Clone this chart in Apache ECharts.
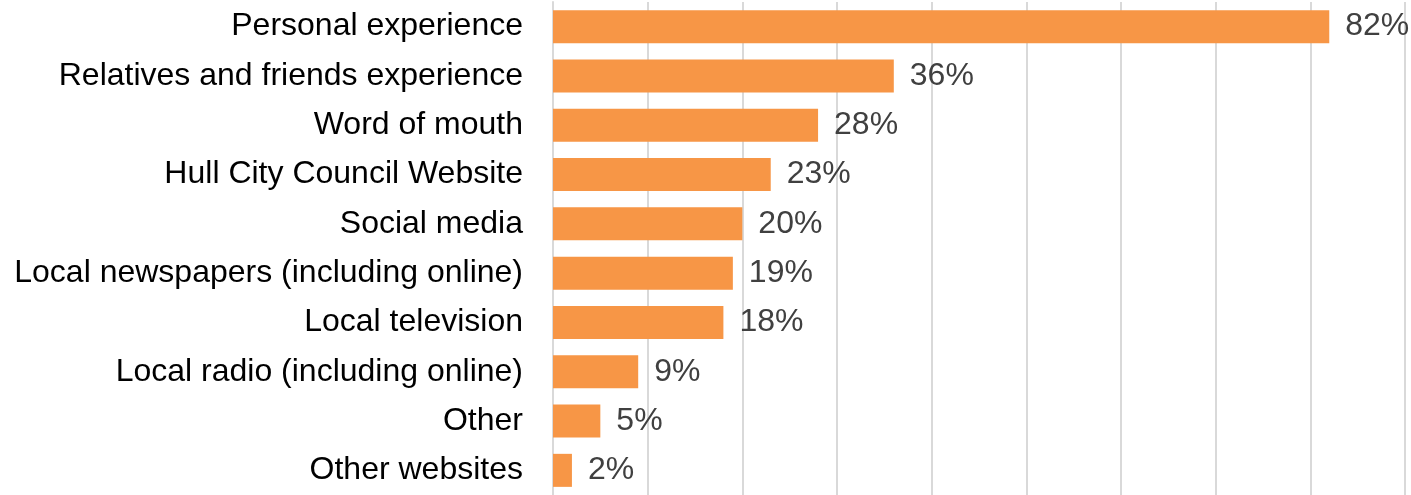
<!DOCTYPE html>
<html>
<head>
<meta charset="utf-8">
<script src="https://cdn.jsdelivr.net/npm/echarts@6/dist/echarts.min.js"></script>
<style>
  html, body { margin: 0; padding: 0; background: #fff; }
  #chart { width: 1411px; height: 495px; }
</style>
</head>
<body>
<div id="chart"></div>
<script>
// Information sources, share of respondents (%)
const categories = [
  'Personal experience',
  'Relatives and friends experience',
  'Word of mouth',
  'Hull City Council Website',
  'Social media',
  'Local newspapers (including online)',
  'Local television',
  'Local radio (including online)',
  'Other',
  'Other websites'
];
const values = [82, 36, 28, 23, 20, 19, 18, 9, 5, 2];

const chart = echarts.init(document.getElementById('chart'), null, { renderer: 'canvas' });

chart.setOption({
  animation: false,
  backgroundColor: '#ffffff',
  grid: { left: 553, top: 2, width: 852, height: 496, containLabel: false },
  xAxis: {
    type: 'value',
    min: 0,
    max: 90,
    interval: 10,
    axisLabel: { show: false },
    axisLine: { show: false },
    axisTick: { show: false },
    splitLine: { show: true, lineStyle: { color: '#d9d9d9', width: 2 } }
  },
  yAxis: {
    type: 'category',
    inverse: true,
    data: categories,
    axisLine: { show: true, lineStyle: { color: '#d9d9d9', width: 2 } },
    axisTick: { show: false },
    axisLabel: {
      margin: 30,
      color: '#000000',
      fontFamily: 'Liberation Sans, Arial, sans-serif',
      fontSize: 32
    }
  },
  series: [{
    type: 'bar',
    data: values,
    barCategoryGap: '33%',
    itemStyle: { color: '#F79646' },
    label: {
      show: true,
      position: 'right',
      distance: 16,
      formatter: '{c}%',
      color: '#404040',
      fontFamily: 'Liberation Sans, Arial, sans-serif',
      fontSize: 32
    }
  }]
});
</script>
</body>
</html>
